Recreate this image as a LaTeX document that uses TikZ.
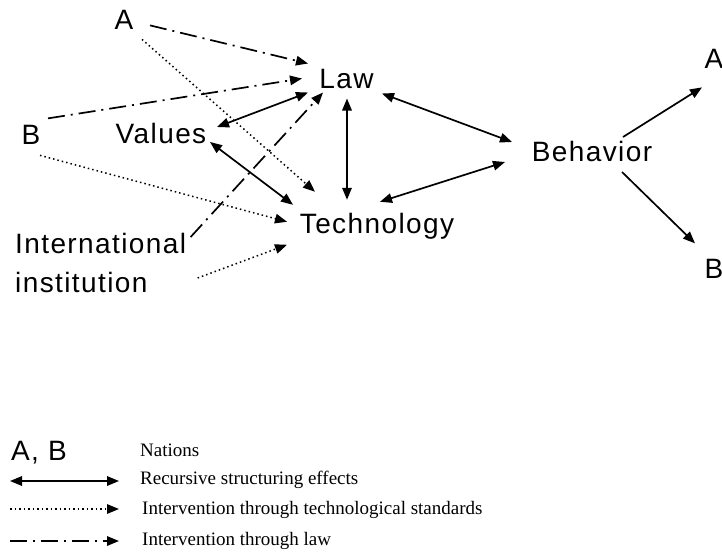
\documentclass[tikz,border=0pt]{standalone}
\usepackage{fontspec}
\setmainfont{Liberation Serif}
\newfontfamily\labelfont{Liberation Sans}[LetterSpace=5]
\usetikzlibrary{arrows.meta}

\tikzset{
  lbl/.style={inner sep=0pt, anchor=base, font=\labelfont\fontsize{28}{39}\selectfont},
  legtext/.style={inner sep=0pt, anchor=west, font=\fontsize{19}{22}\selectfont},
  tip/.style={-{Triangle[length=12pt,width=9.5pt]}},
  both/.style={{Triangle[length=12pt,width=9.5pt]}-{Triangle[length=12pt,width=9.5pt]}},
  recursive/.style={both, line width=1.7pt},
  techstd/.style={tip, line width=1.5pt, dash pattern=on 1.5pt off 3pt},
  lawint/.style={tip, line width=1.7pt, dash pattern=on 17pt off 6pt on 2pt off 6pt},
}

\begin{document}
\begin{tikzpicture}[x=1pt, y=-1pt]
    \useasboundingbox (0,0) rectangle (722,558);

    % actors and structures
    \node[lbl] (natA) at (124,29) {A};
    \node[lbl] (natB) at (31,144) {B};
    \node[lbl] (law) at (346.5,88) {Law};
    \node[lbl] (values) at (161,143) {Values};
    \node[lbl] (tech) at (377,233) {Technology};
    \node[lbl] (behav) at (592,161) {Behavior};
    \node[lbl] (outA) at (714,68) {A};
    \node[lbl] (outB) at (714,278) {B};
    \node[lbl, anchor=north west, align=left] (intl) at (15,233) {International\\institution};

    % intervention through law
    \draw[lawint] ([shift={(26,6)}]natA.center) -- ([shift={(-38.5,-15)}]law.center);
    \draw[lawint] ([shift={(17,-16)}]natB.center) -- ([shift={(-44.5,0)}]law.center);
    \draw[lawint] ([shift={(90,-26)}]intl.center) -- ([shift={(-23.5,14)}]law.center);

    % intervention through technological standards
    \draw[techstd] ([shift={(18,20)}]natA.center) -- ([shift={(-62,-34)}]tech.center);
    \draw[techstd] ([shift={(9,21)}]natB.center) -- ([shift={(-90,-4)}]tech.center);
    \draw[techstd] ([shift={(97,15)}]intl.center) -- ([shift={(-90,19)}]tech.center);

    % recursive structuring effects
    \draw[recursive] ([shift={(56,-6)}]values.center) -- ([shift={(-38.5,14)}]law.center);
    \draw[recursive] ([shift={(49,9)}]values.center) -- ([shift={(-84,-21)}]tech.center);
    \draw[recursive] ([shift={(0.5,20)}]law.center) -- ([shift={(-30,-26)}]tech.center);
    \draw[recursive] ([shift={(35.5,15)}]law.center) -- ([shift={(-80,-9)}]behav.center);
    \draw[recursive] ([shift={(3,-24)}]tech.center) -- ([shift={(-87,11)}]behav.center);

    % behaviour back to the nations
    \draw[tip, line width=1.7pt] ([shift={(31,-14)}]behav.center) -- ([shift={(-12,29)}]outA.center);
    \draw[tip, line width=1.7pt] ([shift={(30,21)}]behav.center) -- ([shift={(-19,-25)}]outB.center);

    % legend
    \node[lbl, anchor=base west] (keyAB) at (11,460) {A, B};
    \node[legtext] (keyNat) at (140,450) {Nations};
    \coordinate (r1) at (10,481);  \coordinate (r2) at (119,481);
    \coordinate (s1) at (10,509);  \coordinate (s2) at (119,509);
    \coordinate (l1) at (10,541);  \coordinate (l2) at (119,541);
    \draw[recursive] (r1) -- (r2);
    \draw[techstd] (s1) -- (s2);
    \draw[lawint] (l1) -- (l2);
    \node[legtext] (keyRec) at (140,480) {Recursive structuring effects};
    \node[legtext] (keyTech) at (142,510) {Intervention through technological standards};
    \node[legtext] (keyLaw) at (142,541) {Intervention through law};
\end{tikzpicture}
\end{document}
